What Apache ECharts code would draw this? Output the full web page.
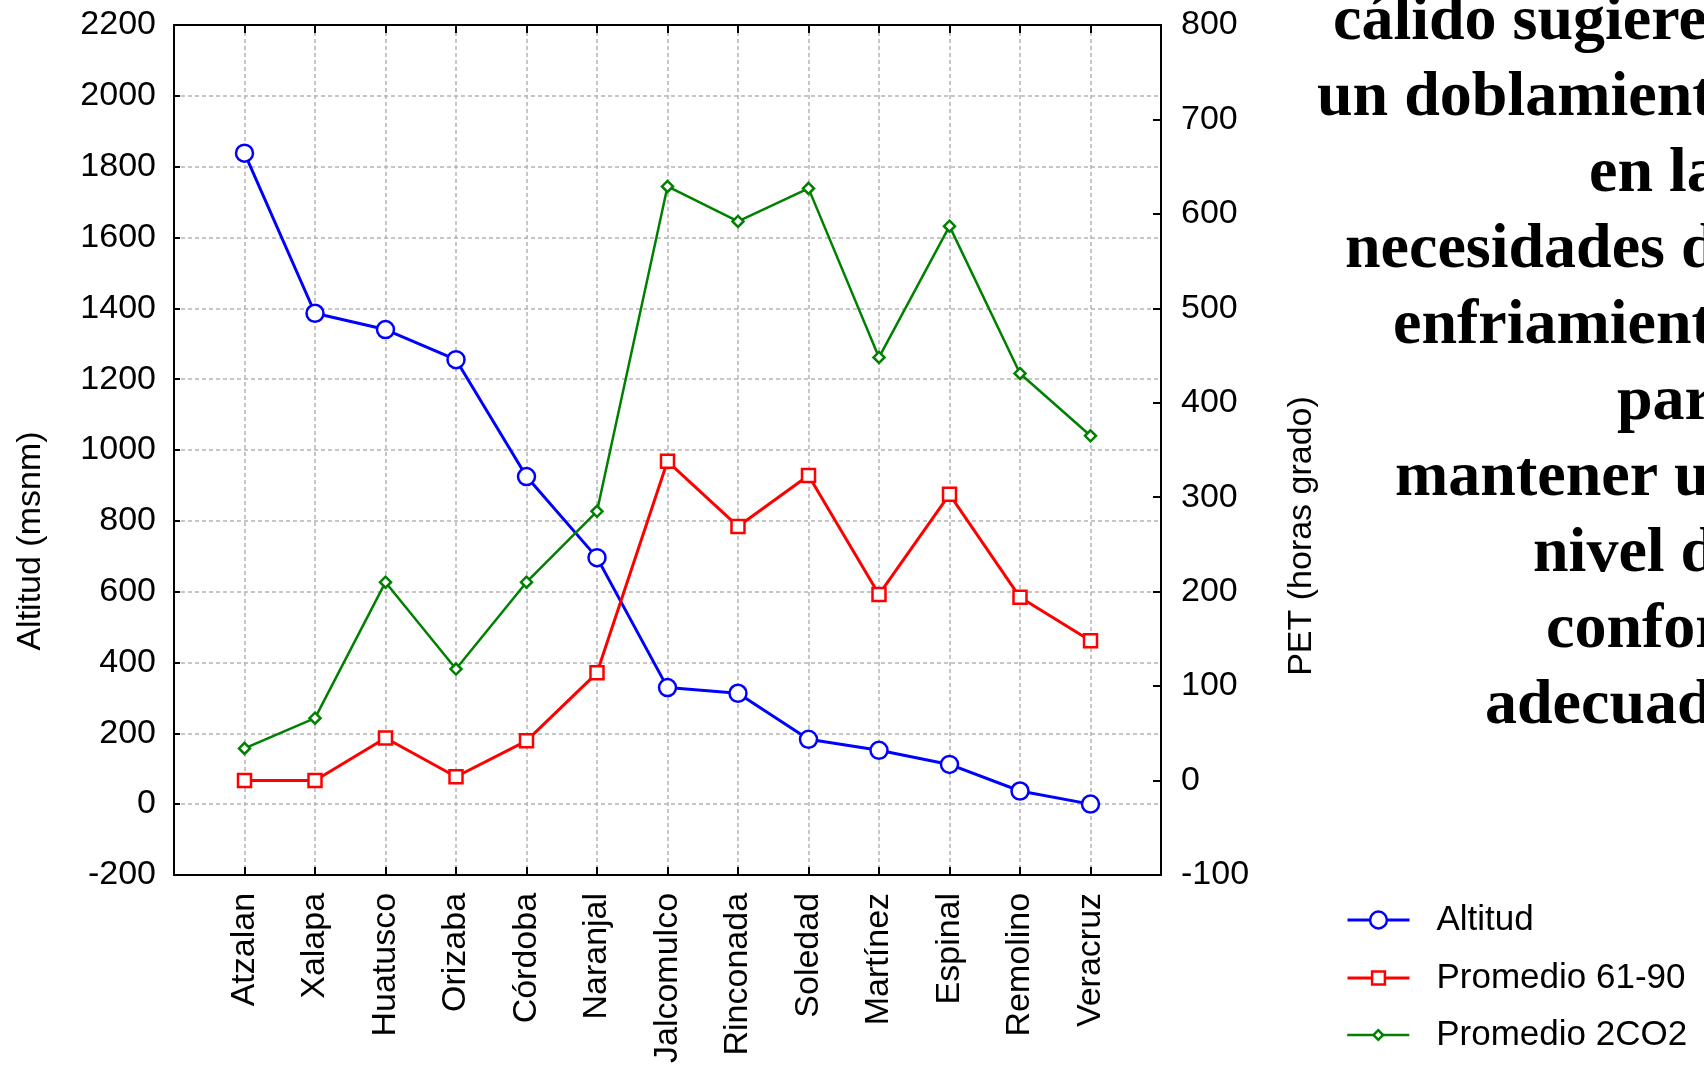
<!DOCTYPE html>
<html>
<head>
<meta charset="utf-8">
<script src="https://cdn.jsdelivr.net/npm/echarts@6/dist/echarts.min.js"></script>
<style>
html,body{margin:0;padding:0;background:#fff;}
#chart{width:1704px;height:1066px;}
</style>
</head>
<body>
<div id="chart"></div>
<script>
// ---- data ----
const categories = ['Atzalan','Xalapa','Huatusco','Orizaba','Córdoba','Naranjal','Jalcomulco','Rinconada','Soledad','Martínez','Espinal','Remolino','Veracruz'];
const altitud = [1838, 1386, 1340, 1255, 925, 696, 329, 313, 183, 152, 112, 37, 0];
const promedio6190 = [0, 0, 45, 4, 42, 114, 338, 269, 323, 197, 303, 194, 148];
const promedio2CO2 = [34, 66, 210, 118, 210, 285, 629, 592, 627, 448, 587, 431, 365];
const leftTicks = {min: -200, max: 2200, interval: 200};
const rightTicks = {min: -100, max: 800, interval: 100};
const sideText = ['cálido sugiere','un doblamient','en la','necesidades d','enfriamient','par','mantener u','nivel d','confor','adecuad'];
const seriesNames = ['Altitud','Promedio 61-90','Promedio 2CO2'];

// padded category axis (one empty slot at each end)
const axisCats = [''].concat(categories, ['']);
const pad = a => [null].concat(a, [null]);

const FONT = 'Liberation Sans, Arial, sans-serif';
const chart = echarts.init(document.getElementById('chart'), null, {renderer: 'canvas'});

const gridLine = {show: true, lineStyle: {color: '#b4b4b4', width: 1.5, type: [4, 3]}};
const axLine = {show: true, onZero: false, lineStyle: {color: '#000', width: 2}};
const plain = v => String(v);

const textStarts = [1333, 1317, 1589, 1345, 1393, 1617, 1395, 1533, 1546, 1485];
const baseline0 = 37, lineStep = 76.1;
const graphics = sideText.map((t, i) => ({
  type: 'text',
  x: textStarts[i], y: baseline0 + i * lineStep - 15,
  style: {text: t, font: 'bold 64px "Liberation Serif", "Times New Roman", serif', fill: '#000', verticalAlign: 'middle', align: 'left'}
}));
graphics.push({
  type: 'text', x: 31, y: 541, rotation: Math.PI / 2,
  style: {text: 'Altitud (msnm)', font: '34px ' + FONT, fill: '#000', align: 'center', verticalAlign: 'middle'}
});
graphics.push({
  type: 'text', x: 1302, y: 536, rotation: Math.PI / 2,
  style: {text: 'PET (horas grado)', font: '34px ' + FONT, fill: '#000', align: 'center', verticalAlign: 'middle'}
});

const legendTops = [919, 977, 1034];
const legendHeights = [21, 16, 12];
const legendColors = ['#0000ff', '#ff0000', '#008000'];
const legends = seriesNames.map((n, i) => ({
  data: [n], orient: 'vertical', left: 1346, top: legendTops[i] - 19, padding: 0,
  itemWidth: 62, itemHeight: legendHeights[i], itemGap: 0,
  lineStyle: {width: i === 2 ? 2.5 : 3, color: legendColors[i]},
  itemStyle: {color: '#fff', borderColor: legendColors[i], borderWidth: 2.5},
  textStyle: {fontSize: 35, fontFamily: FONT, color: '#000', padding: [0, 0, 0, 22], lineHeight: 40},
  selectedMode: false
}));

const option = {
  backgroundColor: '#fff',
  animation: false,
  graphic: graphics,
  legend: legends,
  grid: {left: 174, top: 25, width: 987, height: 856, containLabel: false},
  xAxis: [{
    type: 'category', data: axisCats, boundaryGap: false, position: 'bottom',
    axisLine: axLine,
    axisTick: {show: true, inside: true, length: 8, interval: 0, lineStyle: {color: '#000', width: 2}},
    axisLabel: {interval: 0, rotate: 90, fontSize: 34, fontFamily: FONT, color: '#000', margin: 18},
    splitLine: Object.assign({interval: 0}, gridLine)
  }, {
    type: 'category', data: axisCats, boundaryGap: false, position: 'top',
    axisLine: axLine,
    axisTick: {show: true, inside: true, length: 8, interval: 0, lineStyle: {color: '#000', width: 2}},
    axisLabel: {show: false}, splitLine: {show: false}
  }],
  yAxis: [{
    type: 'value', position: 'left', min: leftTicks.min, max: leftTicks.max, interval: leftTicks.interval,
    axisLine: axLine,
    axisTick: {show: true, inside: true, length: 6, lineStyle: {color: '#000', width: 2}},
    axisLabel: {fontSize: 34, fontFamily: FONT, color: '#000', margin: 18, formatter: plain},
    splitLine: gridLine
  }, {
    type: 'value', position: 'right', min: rightTicks.min, max: rightTicks.max, interval: rightTicks.interval,
    axisLine: axLine,
    axisTick: {show: true, inside: true, length: 8, lineStyle: {color: '#000', width: 2}},
    axisLabel: {fontSize: 34, fontFamily: FONT, color: '#000', margin: 20, formatter: plain},
    splitLine: {show: false}
  }],
  series: [{
    name: seriesNames[0], type: 'line', yAxisIndex: 0, data: pad(altitud),
    symbol: 'circle', symbolSize: 17, showAllSymbol: true,
    lineStyle: {color: '#0000ff', width: 3},
    itemStyle: {color: '#fff', borderColor: '#0000ff', borderWidth: 2.5}
  }, {
    name: seriesNames[1], type: 'line', yAxisIndex: 1, data: pad(promedio6190),
    symbol: 'rect', symbolSize: 13, showAllSymbol: true,
    lineStyle: {color: '#ff0000', width: 3},
    itemStyle: {color: '#fff', borderColor: '#ff0000', borderWidth: 2.5}
  }, {
    name: seriesNames[2], type: 'line', yAxisIndex: 1, data: pad(promedio2CO2),
    symbol: 'diamond', symbolSize: 11, showAllSymbol: true,
    lineStyle: {color: '#008000', width: 2.5},
    itemStyle: {color: '#fff', borderColor: '#008000', borderWidth: 2.5}
  }]
};
chart.setOption(option);
</script>
</body>
</html>
